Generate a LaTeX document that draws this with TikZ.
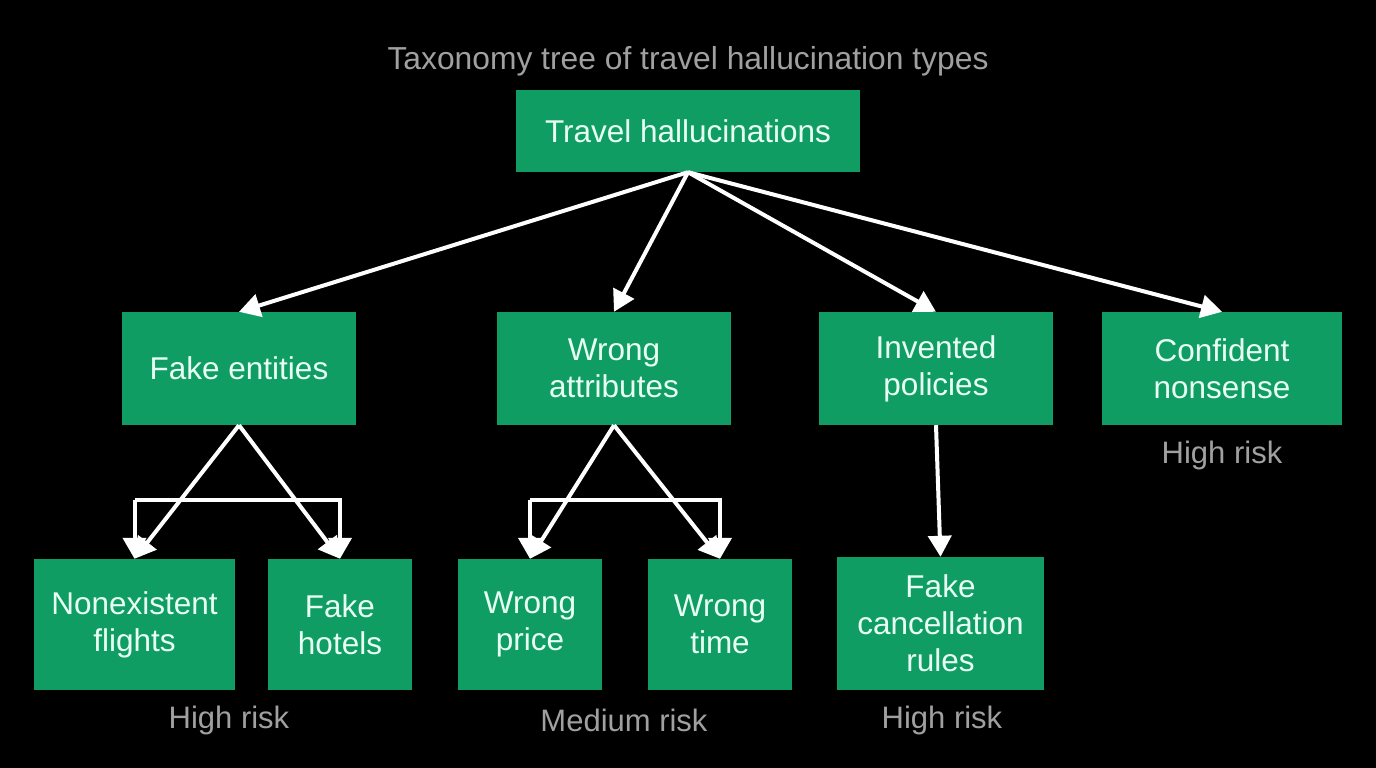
\documentclass[tikz,border=0pt]{standalone}
\usepackage{fontspec}
\setmainfont{Liberation Sans}
\usetikzlibrary{arrows.meta}
\definecolor{boxg}{RGB}{16,157,99}
\definecolor{boxtxt}{RGB}{232,255,243}
\definecolor{lblgrey}{RGB}{160,160,160}
\begin{document}
\begin{tikzpicture}[x=1pt,y=-1pt,
  box/.style={fill=boxg, draw=none, text=boxtxt, align=center, inner sep=0pt,
    font=\fontsize{31.5}{37}\selectfont},
  lbl/.style={text=lblgrey, font=\fontsize{31}{37}\selectfont, inner sep=0pt},
  arr/.style={draw=white, line width=4pt, line join=miter,
    -{Triangle[length=21pt,width=23pt]}}]
\fill[black] (0,0) rectangle (1376,768);
\useasboundingbox (0,0) rectangle (1376,768);

\node[lbl, font=\fontsize{31.8}{37}\selectfont] (title) at (688,61) {Taxonomy tree of travel hallucination types};

\node[box, minimum width=344pt, minimum height=82pt] (root) at (688,131) {Travel hallucinations};

\node[box, minimum width=234pt, minimum height=113pt] (fe) at (239,368.5) {Fake entities};
\node[box, minimum width=234pt, minimum height=113pt] (wa) at (614,368.5) {Wrong\\attributes};
\node[box, minimum width=234pt, minimum height=113pt] (ip) at (936,368.5) {Invented\\policies};
\node[box, minimum width=240pt, minimum height=113pt] (cn) at (1222,368.5) {Confident\\nonsense};

\node[box, minimum width=201pt, minimum height=131pt] (nf) at (134.5,624.5) {Nonexistent\\flights};
\node[box, minimum width=144pt, minimum height=131pt] (fh) at (340,624.5) {Fake\\hotels};
\node[box, minimum width=144pt, minimum height=131pt] (wp) at (530,624.5) {Wrong\\price};
\node[box, minimum width=144pt, minimum height=131pt] (wt) at (720,624.5) {Wrong\\time};
\node[box, minimum width=207pt, minimum height=133pt] (fc) at (940.5,623.5) {Fake\\cancellation\\rules};

\node[lbl] (l1) at (229,720) {High risk};
\node[lbl] (l2) at (624,720) {Medium risk};
\node[lbl] (l3) at (942,720) {High risk};
\node[lbl] (l4) at (1222,455) {High risk};

% root to level 1
\draw[arr] (root.south) -- (fe.north);
\draw[arr] (root.south) -- (wa.north);
\draw[arr] (root.south) -- (ip.north);
\draw[arr] (root.south) -- (cn.north);

% fake entities
\coordinate (feL) at (nf.north |- 0,500);
\coordinate (feR) at (fh.north |- 0,500);
\draw[arr] (fe.south) -- (nf.north);
\draw[arr] (fe.south) -- (fh.north);
\draw[arr] (feL) -- (nf.north);
\draw[arr] (feL) -- (feR) -- (fh.north);

% wrong attributes
\coordinate (waL) at (wp.north |- 0,500);
\coordinate (waR) at (wt.north |- 0,500);
\draw[arr] (wa.south) -- (wp.north);
\draw[arr] (wa.south) -- (wt.north);
\draw[arr] (waL) -- (wp.north);
\draw[arr] (waL) -- (waR) -- (wt.north);

% invented policies
\draw[arr] (ip.south) -- (fc.north);
\end{tikzpicture}
\end{document}
